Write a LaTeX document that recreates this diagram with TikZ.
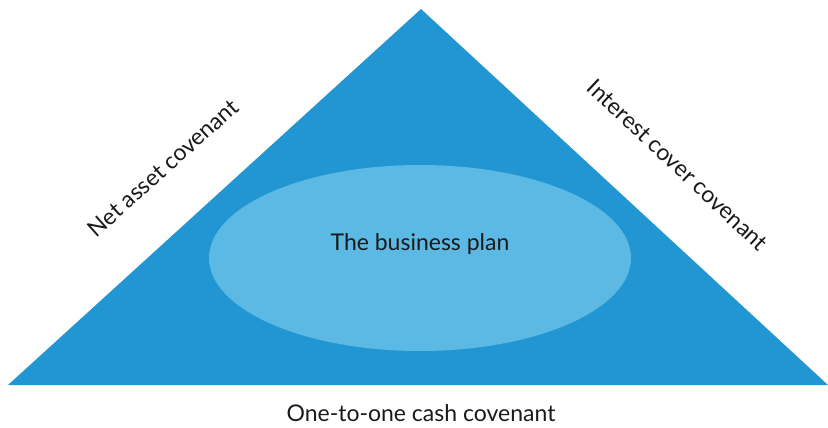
\documentclass[tikz,border=0pt]{standalone}
\usepackage{fontspec}
\setmainfont{Lato}
\definecolor{covblue}{HTML}{2196D3}
\definecolor{planblue}{HTML}{5BB9E3}
\definecolor{labelgray}{HTML}{1A1A1A}
\begin{document}
\begin{tikzpicture}[x=1pt, y=-1pt,
    covlabel/.style={text=labelgray, font=\fontsize{23}{27}\selectfont, inner sep=0pt}]
    \useasboundingbox (0,0) rectangle (828,428);

    % --- Triangle of covenants ---
    \coordinate (apex) at (421,9);
    \coordinate (bl) at (8,385);
    \coordinate (br) at (828,385);
    \fill[covblue] (bl) -- (apex) -- (br) -- cycle;

    % --- Business plan at the centre ---
    \fill[planblue] (420,258) ellipse [x radius=211, y radius=93];
    \node[covlabel] (plan) at (420,244) {The business plan};

    % Covenants on the three sides
    \node[covlabel, rotate=41.8] (netasset) at (163,168) {Net asset covenant};
    \node[covlabel, rotate=-43.2] (interest) at (678,165) {Interest cover covenant};
    \node[covlabel] (cash) at (421,413) {One-to-one cash covenant};
\end{tikzpicture}
\end{document}
